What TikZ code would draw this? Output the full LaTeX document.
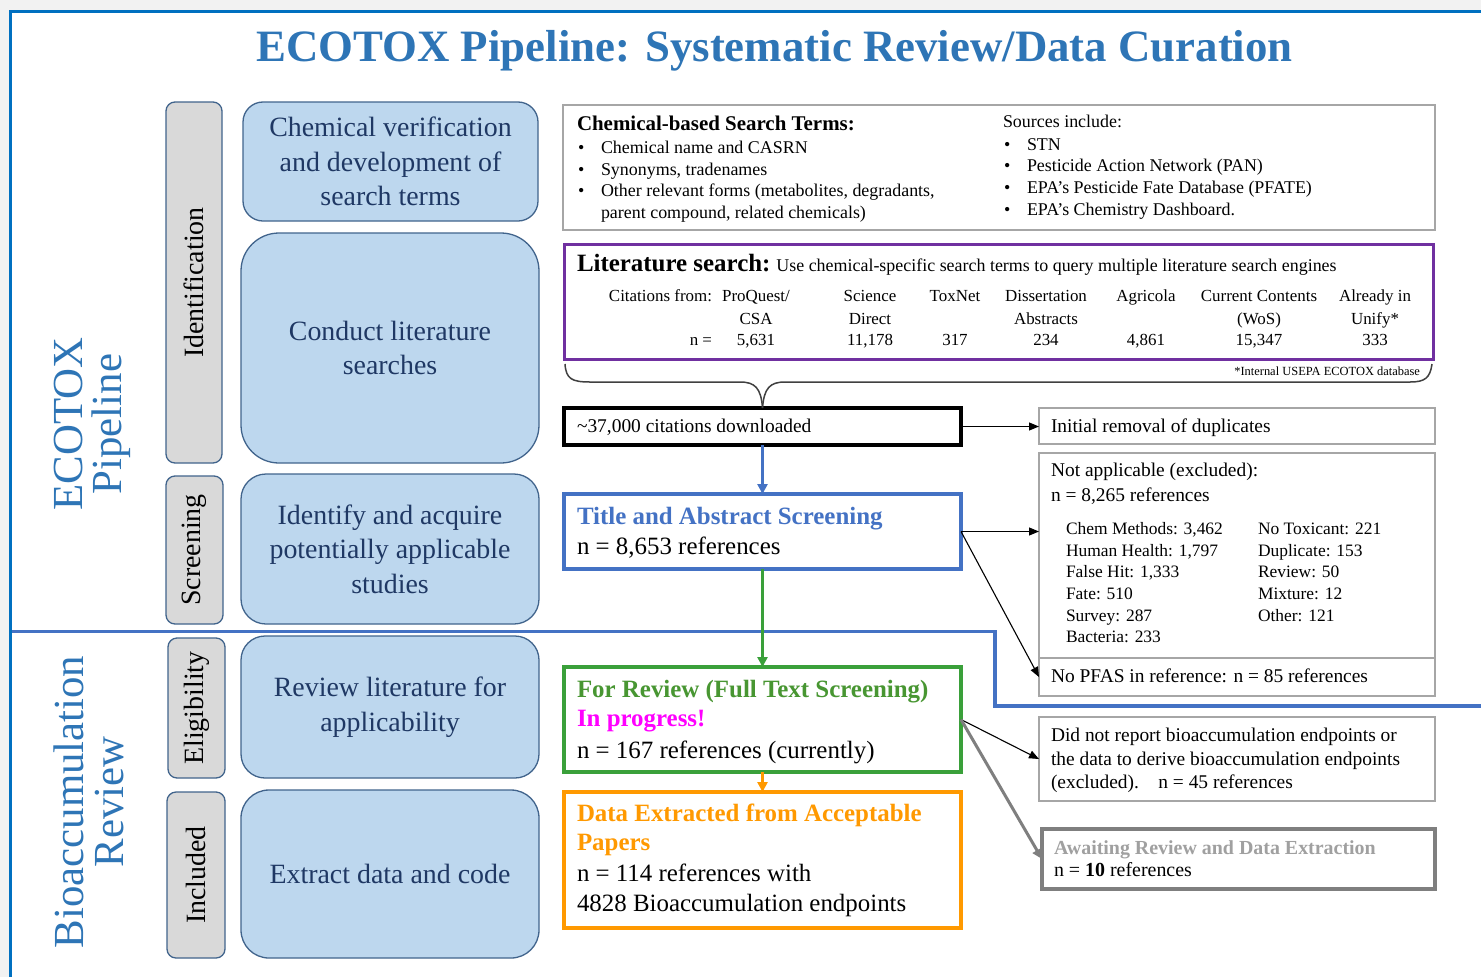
\documentclass[tikz,border=0pt]{standalone}
\usepackage{fontspec}
\setmainfont{Liberation Serif}
\usetikzlibrary{arrows.meta,calc}
\newcommand{\fsz}[2]{\fontsize{#1}{#2}\selectfont}
\definecolor{frameblue}{RGB}{0,112,192}
\definecolor{divblue}{RGB}{68,114,196}
\definecolor{titleblue}{RGB}{46,117,182}
\definecolor{boxfill}{RGB}{189,215,238}
\definecolor{boxline}{RGB}{65,100,140}
\definecolor{boxtext}{RGB}{31,56,100}
\definecolor{tabfill}{RGB}{217,217,217}
\definecolor{grayline}{RGB}{166,166,166}
\definecolor{litpurple}{RGB}{112,48,160}
\definecolor{scrblue}{RGB}{68,114,196}
\definecolor{revgreen}{RGB}{58,160,58}
\definecolor{revtext}{RGB}{72,150,50}
\definecolor{extorange}{RGB}{255,153,0}
\definecolor{awaitline}{RGB}{127,127,127}
\definecolor{awaittext}{RGB}{160,160,160}
\definecolor{bracegray}{RGB}{64,64,64}
\definecolor{margingray}{RGB}{242,242,242}
\definecolor{progmagenta}{RGB}{255,0,255}
\begin{document}
\begin{tikzpicture}[x=1bp,y=-1bp,
  every node/.style={inner sep=0pt, outer sep=0pt},
  txt/.style={anchor=base west},
  tab/.style={draw=boxline, fill=tabfill, line width=1.3bp, rounded corners=9bp, rotate=90, font=\fsz{28}{32}, text=black},
  stage/.style={draw=boxline, fill=boxfill, line width=1.3bp, align=center, font=\fsz{28}{34.5}, text=boxtext},
  side/.style={rotate=90, align=center, font=\fsz{43}{40}, text=titleblue},
  plainbox/.style={draw=grayline, line width=1.5bp},
  thinarrow/.style={draw=black, line width=1.1bp, -{Triangle[length=10bp,width=8bp]}},
  fatarrow/.style={line width=3bp, -{Triangle[length=10bp,width=10bp]}},
  small/.style={font=\fsz{18}{21}},
  mid/.style={font=\fsz{19.5}{23}},
  big/.style={font=\fsz{25}{30}},
  tbl/.style={anchor=base, font=\fsz{17}{20}},
  col/.style={anchor=base west, font=\fsz{17.5}{20}}
]
\useasboundingbox (0,0) rectangle (1481,977);
\fill[margingray] (0,0) rectangle (1481,977);
\fill[white] (10,10) rectangle (1481,977);
\draw[frameblue, line width=3.5bp] (10.5,977) -- (10.5,11.5) -- (1481,11.5);
\draw[divblue, line width=3.5bp] (12,631.5) -- (995,631.5) -- (995,706) -- (1481,706);

% title
\node[anchor=base, font=\fsz{45}{50}\bfseries, text=titleblue] (title) at (774.5,61) {ECOTOX Pipeline: Systematic Review/Data Curation};

% side labels
\node[side] (sideA) at (92.4,424) {ECOTOX\\Pipeline};
\node[side] (sideB) at (88.5,802) {Bioaccumulation\\Review};

% tabs
\node[tab, minimum width=361bp, minimum height=56bp] (tabId) at (194,282.5) {Identification};
\node[tab, minimum width=148bp, minimum height=57bp] (tabScr) at (194.5,550) {Screening};
\node[tab, minimum width=140bp, minimum height=57bp] (tabElig) at (196.5,708) {Eligibility};
\node[tab, minimum width=166bp, minimum height=58bp] (tabInc) at (196,875) {Included};

% stage boxes
\node[stage, rounded corners=20bp, minimum width=295bp, minimum height=119bp] (bChem) at (390.5,161.5) {Chemical verification\\and development of\\search terms};
\node[stage, rounded corners=38bp, minimum width=298bp, minimum height=230bp] (bConduct) at (390,348) {Conduct literature\\searches};
\node[stage, rounded corners=25bp, minimum width=298bp, minimum height=150bp] (bIdent) at (390,549) {Identify and acquire\\potentially applicable\\studies};
\node[stage, rounded corners=24bp, minimum width=298bp, minimum height=142bp] (bReview) at (390,707) {Review literature for\\applicability};
\node[stage, rounded corners=28bp, minimum width=298bp, minimum height=168bp] (bExtract) at (390,874) {Extract data and code};

% search terms box
\node[draw=grayline, line width=2.5bp, minimum width=872bp, minimum height=125bp] (gSearch) at (999,167.5) {};
\node[txt, font=\fsz{21}{24}\bfseries] (hSearch) at (577,130) {Chemical-based Search Terms:};
\node[txt, small] (bu1) at (578,153.3) {\textbullet};
\node[txt, small] (st1) at (601,153.3) {Chemical name and CASRN};
\node[txt, small] (bu2) at (578,175) {\textbullet};
\node[txt, small] (st2) at (601,175) {Synonyms, tradenames};
\node[txt, small] (bu3) at (578,196.7) {\textbullet};
\node[txt, small] (st3) at (601,196.7) {Other relevant forms (metabolites, degradants,};
\node[txt, small] (st4) at (601,218.3) {parent compound, related chemicals)};
\node[txt, small] (hSrc) at (1003,127.7) {Sources include:};
\node[txt, small] (bs1) at (1004,150) {\textbullet};
\node[txt, small] (ss1) at (1027,150) {STN};
\node[txt, small] (bs2) at (1004,171.7) {\textbullet};
\node[txt, small] (ss2) at (1027,171.7) {Pesticide Action Network (PAN)};
\node[txt, small] (bs3) at (1004,193.3) {\textbullet};
\node[txt, small] (ss3) at (1027,193.3) {EPA's Pesticide Fate Database (PFATE)};
\node[txt, small] (bs4) at (1004,215) {\textbullet};
\node[txt, small] (ss4) at (1027,215) {EPA's Chemistry Dashboard.};

% literature search box
\node[draw=litpurple, line width=3bp, minimum width=869bp, minimum height=115bp] (pLit) at (998.5,301.5) {};
\node[txt] (hLit) at (577,271.7) {{\fsz{25}{30}\bfseries Literature search:}{\fsz{18}{20} Use chemical-specific search terms to query multiple literature search engines}};
\node[tbl, anchor=base east] (cfrom) at (712,301.7) {Citations from:};
\node[tbl, anchor=base east] (neq) at (712,345.7) {n =};
\node[tbl] (c1a) at (756,301.7) {ProQuest/};
\node[tbl] (c1b) at (756,324.3) {CSA};
\node[tbl] (c1c) at (756,345.7) {5,631};
\node[tbl] (c2a) at (870,301.7) {Science};
\node[tbl] (c2b) at (870,324.3) {Direct};
\node[tbl] (c2c) at (870,345.7) {11,178};
\node[tbl] (c3a) at (955,301.7) {ToxNet};
\node[tbl] (c3c) at (955,345.7) {317};
\node[tbl] (c4a) at (1046,301.7) {Dissertation};
\node[tbl] (c4b) at (1046,324.3) {Abstracts};
\node[tbl] (c4c) at (1046,345.7) {234};
\node[tbl] (c5a) at (1146,301.7) {Agricola};
\node[tbl] (c5c) at (1146,345.7) {4,861};
\node[tbl] (c6a) at (1259,301.7) {Current Contents};
\node[tbl] (c6b) at (1259,324.3) {(WoS)};
\node[tbl] (c6c) at (1259,345.7) {15,347};
\node[tbl] (c7a) at (1375,301.7) {Already in};
\node[tbl] (c7b) at (1375,324.3) {Unify*};
\node[tbl] (c7c) at (1375,345.7) {333};
\node[anchor=base east, font=\fsz{12.5}{14}] (note) at (1420,375) {*Internal USEPA ECOTOX database};

% flow boxes
\node[draw=black, line width=4bp, minimum width=397bp, minimum height=37bp] (kCit) at (762.5,426.5) {};
\node[txt, mid] (tCit) at (577,432.3) {\textasciitilde37,000 citations downloaded};
\node[plainbox, minimum width=396bp, minimum height=36bp] (gInit) at (1237,426) {};
\node[txt, mid] (tInit) at (1051,432) {Initial removal of duplicates};

\node[draw=scrblue, line width=4bp, minimum width=397bp, minimum height=75bp] (bTitle) at (762.5,531.5) {};
\node[txt, text=scrblue, font=\fsz{25}{30}\bfseries] (tTitleA) at (577,524.3) {Title and Abstract Screening};
\node[txt, big] (tTitleB) at (577,554.3) {n = 8,653 references};

\node[plainbox, minimum width=396bp, minimum height=205bp] (gNotApp) at (1237,555.5) {};
\node[plainbox, minimum width=396bp, minimum height=38bp] (gNoPFAS) at (1237,677) {};
\node[txt, mid] (tNA1) at (1051,476.7) {Not applicable (excluded):};
\node[txt, mid] (tNA2) at (1051,501) {n = 8,265 references};
\node[col] (a1) at (1066,534.3) {Chem Methods: 3,462};
\node[col] (a2) at (1066,556) {Human Health: 1,797};
\node[col] (a3) at (1066,577.7) {False Hit: 1,333};
\node[col] (a4) at (1066,599.3) {Fate: 510};
\node[col] (a5) at (1066,621) {Survey: 287};
\node[col] (a6) at (1066,642.7) {Bacteria: 233};
\node[col] (b1) at (1258,534.3) {No Toxicant: 221};
\node[col] (b2) at (1258,556) {Duplicate: 153};
\node[col] (b3) at (1258,577.7) {Review: 50};
\node[col] (b4) at (1258,599.3) {Mixture: 12};
\node[col] (b5) at (1258,621) {Other: 121};
\node[txt, mid] (tPFAS) at (1051,682.3) {No PFAS in reference: n = 85 references};

\node[draw=revgreen, line width=4bp, minimum width=397bp, minimum height=105bp] (gGreen) at (762.5,719.5) {};
\node[txt, text=revtext, font=\fsz{25}{30}\bfseries] (tRevA) at (577,697.7) {For Review (Full Text Screening)};
\node[txt, text=progmagenta, font=\fsz{25}{30}\bfseries] (tRevB) at (577,726.7) {In progress!};
\node[txt, big] (tRevC) at (577,758.3) {n = 167 references (currently)};

\node[draw=extorange, line width=4bp, minimum width=397bp, minimum height=136bp] (oExtract) at (762.5,860) {};
\node[txt, text=extorange, font=\fsz{25}{30}\bfseries] (tExA) at (577,821.7) {Data Extracted from Acceptable};
\node[txt, text=extorange, font=\fsz{25}{30}\bfseries] (tExB) at (577,850) {Papers};
\node[txt, big] (tExC) at (577,881.7) {n = 114 references with};
\node[txt, big] (tExD) at (577,911.7) {4828 Bioaccumulation endpoints};

\node[plainbox, minimum width=396bp, minimum height=84bp] (gDidNot) at (1237,759) {};
\node[txt, mid] (tDN1) at (1051,741.7) {Did not report bioaccumulation endpoints or};
\node[txt, mid] (tDN2) at (1051,765) {the data to derive bioaccumulation endpoints};
\node[txt, mid] (tDN3) at (1051,788.3) {(excluded).\quad n = 45 references};

\node[draw=awaitline, line width=4bp, minimum width=393bp, minimum height=60bp] (gAwait) at (1238.5,859) {};
\node[txt, text=awaittext, font=\fsz{20}{23}\bfseries] (tAwA) at (1054,854) {Awaiting Review and Data Extraction};
\node[txt, font=\fsz{20}{23}] (tAwB) at (1054,876.7) {n = \textbf{10} references};

% brace
\draw[bracegray, line width=1.5bp] (565,364) .. controls (566,379) and (572,382) .. (590,382) -- (740,382) .. controls (755,382) and (761,388) .. (kCit.north);
\draw[bracegray, line width=1.5bp] (kCit.north) .. controls (764,388) and (770,382) .. (785,382) -- (1410,382) .. controls (1425,382) and (1430,378) .. (1432,364);

% connectors
\draw[thinarrow] (kCit.east) -- (kCit.east -| gInit.west);
\draw[fatarrow, draw=scrblue, fill=scrblue] (kCit.south) -- (bTitle.north);
\draw[thinarrow] (bTitle.east) -- (bTitle.east -| gNotApp.west);
\draw[thinarrow] (bTitle.east) -- (gNoPFAS.west);
\draw[fatarrow, draw=revgreen, fill=revgreen] (bTitle.south) -- (gGreen.north);
\draw[thinarrow] (gGreen.east) -- (gDidNot.west);
\draw[fatarrow, draw=awaitline, fill=awaitline] (gGreen.east) -- (gAwait.west);
\draw[fatarrow, draw=extorange, fill=extorange] (gGreen.south) -- (oExtract.north);
\end{tikzpicture}
\end{document}
